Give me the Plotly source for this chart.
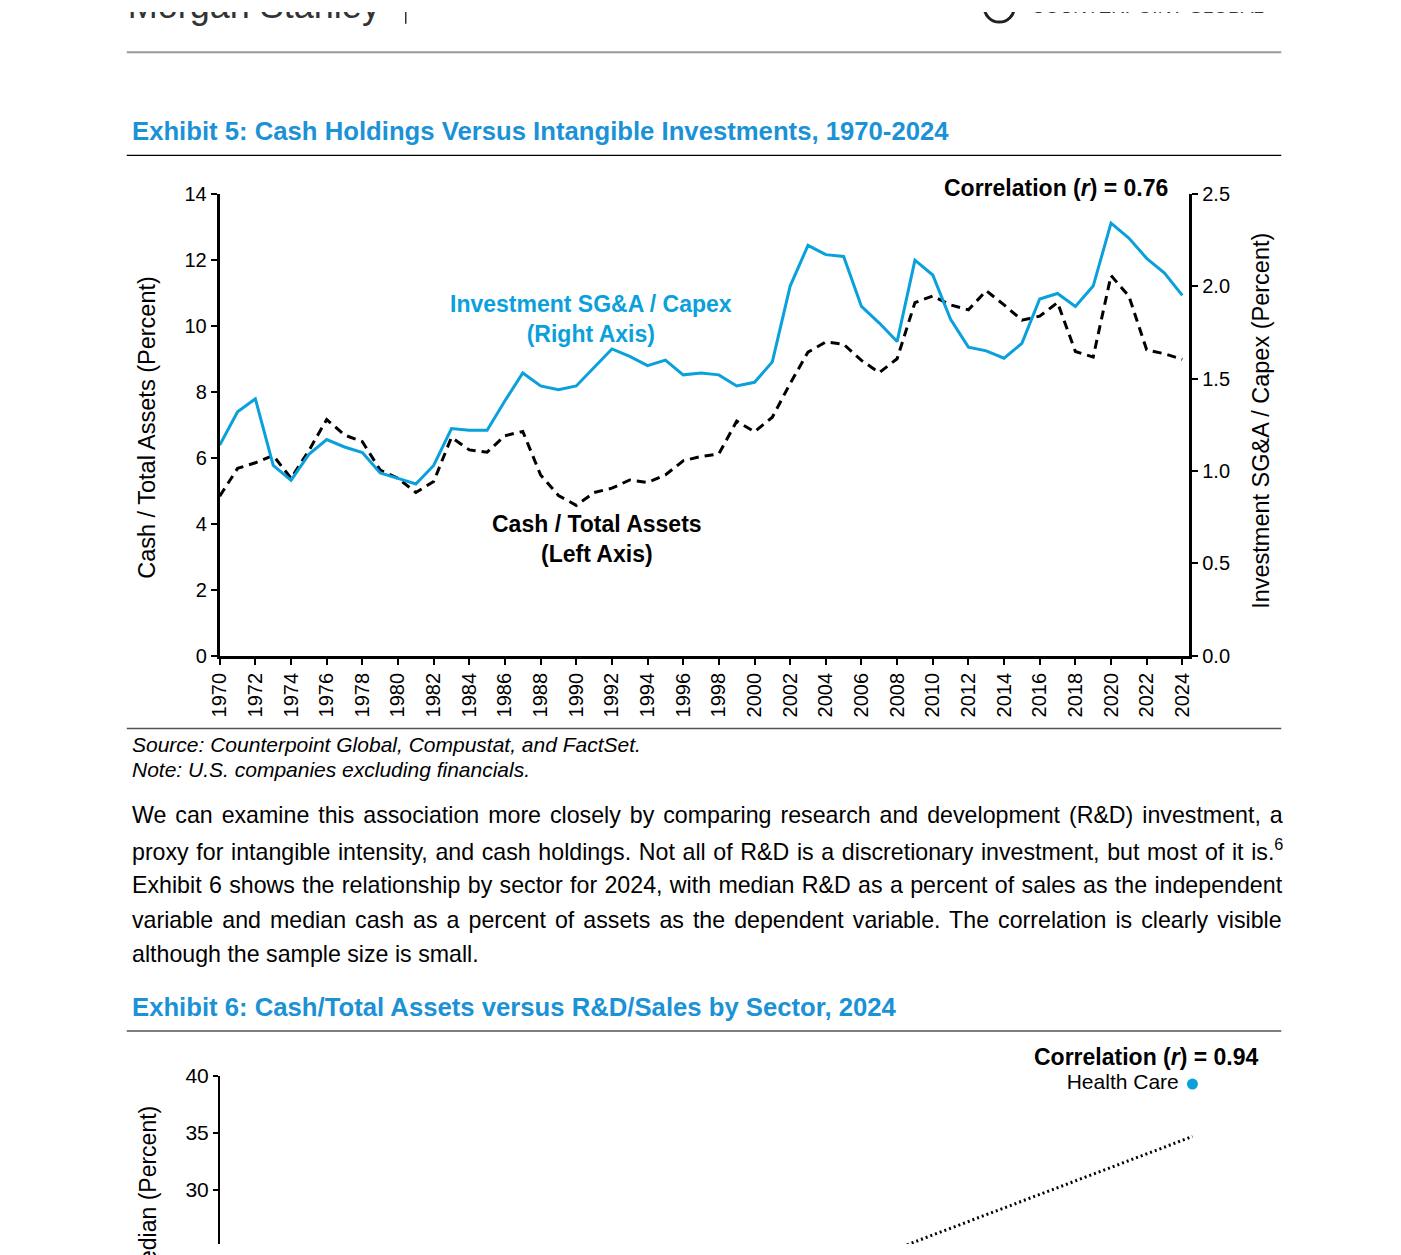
import plotly.graph_objects as go

W, H = 1401, 1255

# Exhibit 5 data
years = list(range(1970, 2025))
cash_total_assets = [
    4.84, 5.68, 5.85, 6.07, 5.38, 6.22, 7.16, 6.69, 6.49, 5.63,
    5.38, 4.95, 5.28, 6.62, 6.24, 6.17, 6.67, 6.80, 5.48, 4.86,
    4.56, 4.95, 5.08, 5.33, 5.25, 5.48, 5.91, 6.04, 6.12, 7.11,
    6.79, 7.23, 8.25, 9.20, 9.51, 9.44, 8.95, 8.58, 9.00, 10.70,
    10.90, 10.63, 10.48, 11.06, 10.63, 10.17, 10.29, 10.70, 9.22, 9.05,
    11.52, 10.90, 9.27, 9.15, 8.98,
]
sga_capex = [
    1.14, 1.32, 1.39, 1.03, 0.95, 1.09, 1.17, 1.13, 1.10, 0.99,
    0.96, 0.93, 1.03, 1.23, 1.22, 1.22, 1.38, 1.53, 1.46, 1.44,
    1.46, 1.56, 1.66, 1.62, 1.57, 1.60, 1.52, 1.53, 1.52, 1.46,
    1.48, 1.59, 2.00, 2.22, 2.17, 2.16, 1.89, 1.80, 1.70, 2.14,
    2.06, 1.82, 1.67, 1.65, 1.61, 1.69, 1.93, 1.96, 1.89, 2.00,
    2.34, 2.26, 2.15, 2.07, 1.95,
]
year_ticks = list(range(1970, 2025, 2))

# Exhibit 6 data (only the top of the chart is visible)
sector_names = ["Health Care"]
rd_sales = [23.75]
cash_median = [39.3]
trend_x = [0.0, 23.75]
trend_y = [2.3, 34.7]

BLUE = "#0aa0dc"
TITLE_BLUE = "#1c92d6"
FONT = "Liberation Sans, Arial, sans-serif"


def px(x):
    return x / W


def py(y):
    return 1 - y / H


fig = go.Figure()

fig.add_trace(go.Scatter(
    x=years, y=sga_capex, mode="lines", yaxis="y2",
    line=dict(color=BLUE, width=3), showlegend=False))
fig.add_trace(go.Scatter(
    x=years, y=cash_total_assets, mode="lines",
    line=dict(color="black", width=3, dash="9px,6px"), showlegend=False))

fig.add_trace(go.Scatter(
    x=trend_x, y=trend_y, mode="lines", xaxis="x3", yaxis="y3",
    line=dict(color="black", width=3, dash="2px,3px"), showlegend=False))
fig.add_trace(go.Scatter(
    x=rd_sales, y=cash_median, mode="markers+text", xaxis="x3", yaxis="y3",
    text=[n + " " for n in sector_names], textposition="middle left",
    textfont=dict(size=21, color="black", family=FONT),
    marker=dict(color=BLUE, size=11), showlegend=False, cliponaxis=False))

# page header, cut off by the top edge of the page (clipped by its own strip)
header_text = ["Morgan Stanley", "INVESTMENT MANAGEMENT", "COUNTERPOINT GLOBAL"]
header_x = [117, 424, 1030]
header_y = [-3, -5.3, -3.8]
header_size = [36, 18, 19]
for t, x0, y0, s in zip(header_text, header_x, header_y, header_size):
    fig.add_trace(go.Scatter(
        x=[x0], y=[y0], mode="text", text=[t], textposition="middle right",
        textfont=dict(size=s, color="#333333", family=FONT),
        xaxis="x4", yaxis="y4", showlegend=False, cliponaxis=True,
        hoverinfo="skip"))
fig.add_trace(go.Scatter(
    x=[998], y=[-5], mode="markers", xaxis="x4", yaxis="y4",
    marker=dict(size=30, color="rgba(0,0,0,0)",
                line=dict(color="#222222", width=3)),
    showlegend=False, cliponaxis=True, hoverinfo="skip"))

axis_common = dict(
    showgrid=False, zeroline=False, showline=True, linecolor="black",
    ticks="outside", tickcolor="black", ticklen=6,
    tickfont=dict(size=20, color="black", family=FONT),
)

fig.update_layout(
    width=W, height=H,
    margin=dict(l=0, r=0, t=0, b=0),
    paper_bgcolor="white", plot_bgcolor="white",
    font=dict(family=FONT, color="black"),
    xaxis=dict(
        domain=[px(210), px(1190)], range=[1970, 2024.39],
        tickvals=year_ticks, ticktext=[str(v) for v in year_ticks],
        tickangle=-90, linewidth=3, tickwidth=2, **axis_common,
    ),
    yaxis=dict(
        domain=[py(656), py(185)], range=[0, 14], dtick=2,
        linewidth=3, tickwidth=2, anchor="x", **axis_common,
    ),
    yaxis2=dict(
        domain=[py(656), py(185)], range=[0, 2.5], dtick=0.5, tickformat=".1f",
        overlaying="y", side="right", anchor="x",
        linewidth=3, tickwidth=2, **axis_common,
    ),
    xaxis3=dict(
        domain=[px(210), px(1245)], range=[0, 25], visible=False,
        anchor="y3",
    ),
    yaxis3=dict(
        domain=[0, py(1084)], range=[25.26, 40], dtick=5,
        linewidth=1.5, tickwidth=1.5, ticklen=5, anchor="x3",
        showgrid=False, zeroline=False, showline=True, linecolor="black",
        ticks="outside", tickcolor="black",
        tickfont=dict(size=21, color="black", family=FONT),
    ),
    xaxis4=dict(domain=[0, 1], range=[0, W], visible=False, anchor="y4"),
    yaxis4=dict(domain=[py(16), 1], range=[16, 0], visible=False, anchor="x4"),
)

shapes = [
    dict(y=41, color="#9a9a9a", width=2),
    dict(y=146, color="black", width=1.2),
    dict(y=730, color="#555555", width=1.5),
    dict(y=1038, color="#555555", width=1.5),
]
for s in shapes:
    fig.add_shape(type="line", xref="paper", yref="paper",
                  x0=px(116), x1=px(1283), y0=py(s["y"]), y1=py(s["y"]),
                  line=dict(color=s["color"], width=s["width"]))
# header divider
fig.add_shape(type="line", xref="paper", yref="paper",
              x0=px(398), x1=px(398), y0=py(0), y1=py(12),
              line=dict(color="#333333", width=1.5))


def note(text, x, y, size, color="black", xanchor="left", yanchor="middle",
         angle=0, **kw):
    fig.add_annotation(text=text, x=px(x), y=py(y), xref="paper", yref="paper",
                       showarrow=False, xanchor=xanchor, yanchor=yanchor,
                       textangle=angle,
                       font=dict(size=size, color=color, family=FONT), **kw)


# Exhibit 5
note("<b>Exhibit 5: Cash Holdings Versus Intangible Investments, 1970-2024</b>",
     119, 121, 25.7, color=TITLE_BLUE)
note("<b>Correlation (<i>r</i>) = 0.76</b>", 1171, 179, 23, xanchor="right")
note("<b>Investment SG&A / Capex<br>(Right Axis)</b>", 585, 313, 23,
     color=BLUE, xanchor="center")
note("<b>Cash / Total Assets<br>(Left Axis)</b>", 591, 537, 23, xanchor="center")
note("Cash / Total Assets (Percent)", 137, 423, 23.5, xanchor="center", angle=-90)
note("Investment SG&A / Capex (Percent)", 1263, 416, 23.5, xanchor="center",
     angle=-90)
note("<i>Source: Counterpoint Global, Compustat, and FactSet.</i>", 119, 746, 21)
note("<i>Note: U.S. companies excluding financials.</i>", 119, 772, 21)

# body text (justified lines get a little extra word spacing)
paragraph = [
    "We can examine this association more closely by comparing research and development (R&D) investment, a",
    "proxy for intangible intensity, and cash holdings. Not all of R&D is a discretionary investment, but most of it is.<sup>6</sup>",
    "Exhibit 6 shows the relationship by sector for 2024, with median R&D as a percent of sales as the independent",
    "variable and median cash as a percent of assets as the dependent variable. The correlation is clearly visible",
    "although the sample size is small.",
]
word_gap = [2.5, 1.2, 0.9, 2.6, 0]
for i, line in enumerate(paragraph):
    note('<span style="word-spacing:%.1fpx">%s</span>' % (word_gap[i], line),
         119, 818 + i * 35.5, 23.2)

# Exhibit 6
note("<b>Exhibit 6: Cash/Total Assets versus R&D/Sales by Sector, 2024</b>",
     119, 1014, 25.7, color=TITLE_BLUE)
note("<b>Correlation (<i>r</i>) = 0.94</b>", 1263, 1064, 23, xanchor="right")
note("Cash / Total Assets, Median (Percent)", 137, 1113, 23, xanchor="center",
     yanchor="top", angle=-90)

fig.write_html(
    "out.html",
    config={"displayModeBar": False},
    post_script=(
        "document.body.style.margin='0';"
        "document.documentElement.style.overflow='hidden';"
    ),
)
